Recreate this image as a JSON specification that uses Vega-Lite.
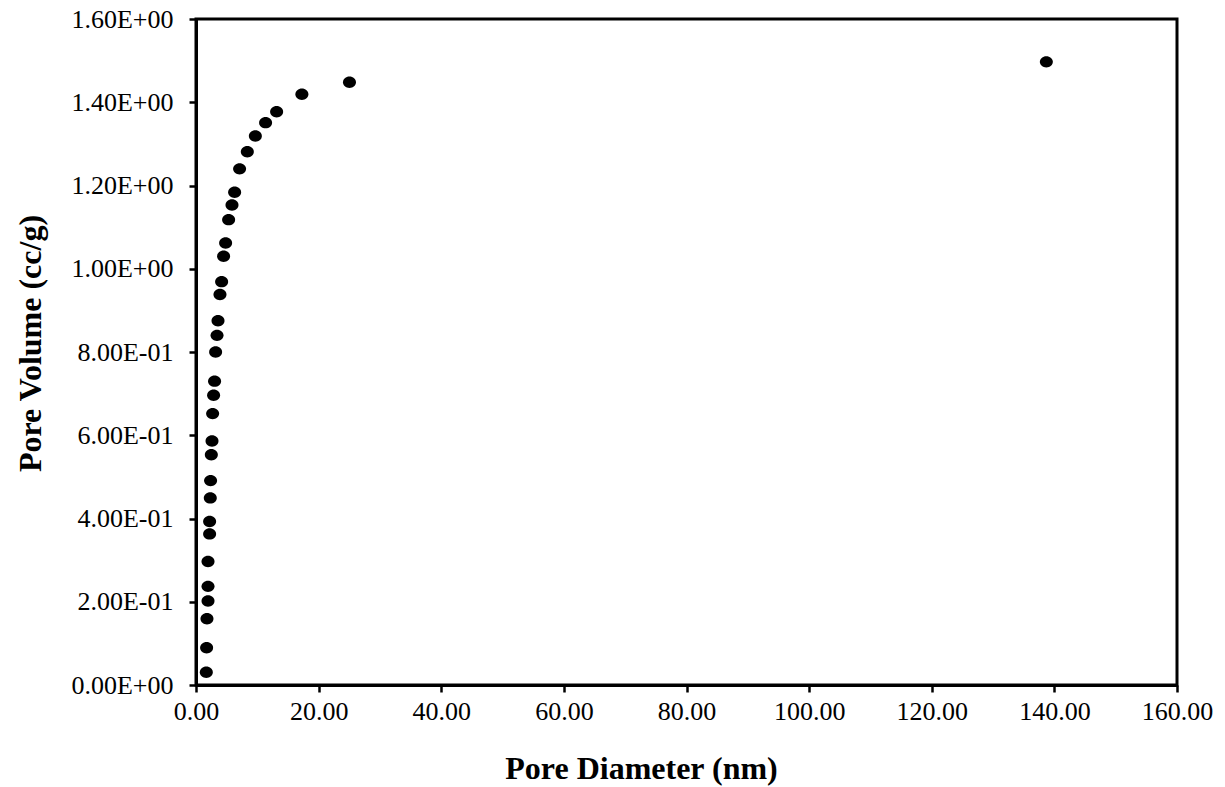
{
  "$schema": "https://vega.github.io/schema/vega-lite/v6.json",
  "autosize": "none",
  "width": 981,
  "height": 666,
  "padding": {"left": 196, "top": 19, "right": 48, "bottom": 102},
  "background": "white",
  "config": {
    "view": {"stroke": "black", "strokeWidth": 3},
    "font": "Liberation Serif"
  },
  "data": {
    "values": [
      {"d": 1.68, "v": 0.0307},
      {"d": 1.73, "v": 0.0893},
      {"d": 1.79, "v": 0.159},
      {"d": 1.96, "v": 0.202},
      {"d": 1.96, "v": 0.237},
      {"d": 1.96, "v": 0.2965},
      {"d": 2.22, "v": 0.363},
      {"d": 2.22, "v": 0.3926},
      {"d": 2.33, "v": 0.4495},
      {"d": 2.38, "v": 0.491},
      {"d": 2.5, "v": 0.553},
      {"d": 2.61, "v": 0.586},
      {"d": 2.71, "v": 0.652},
      {"d": 2.87, "v": 0.696},
      {"d": 3.03, "v": 0.73},
      {"d": 3.2, "v": 0.8},
      {"d": 3.43, "v": 0.84},
      {"d": 3.59, "v": 0.875},
      {"d": 3.91, "v": 0.938},
      {"d": 4.18, "v": 0.969},
      {"d": 4.5, "v": 1.03},
      {"d": 4.83, "v": 1.062},
      {"d": 5.32, "v": 1.118},
      {"d": 5.87, "v": 1.153},
      {"d": 6.3, "v": 1.184},
      {"d": 7.11, "v": 1.24},
      {"d": 8.37, "v": 1.281},
      {"d": 9.68, "v": 1.319},
      {"d": 11.35, "v": 1.351},
      {"d": 13.15, "v": 1.377},
      {"d": 17.27, "v": 1.419},
      {"d": 25.03, "v": 1.448},
      {"d": 138.69, "v": 1.497}
    ]
  },
  "mark": {
    "type": "point",
    "filled": true,
    "color": "black",
    "opacity": 1,
    "size": 169,
    "shape": "M-1,0A1,0.88 0 1,0 1,0A1,0.88 0 1,0 -1,0Z"
  },
  "encoding": {
    "x": {
      "field": "d",
      "type": "quantitative",
      "scale": {"domain": [0, 160], "nice": false, "zero": true},
      "axis": {
        "title": "Pore Diameter (nm)",
        "values": [0, 20, 40, 60, 80, 100, 120, 140, 160],
        "format": ".2f",
        "grid": false,
        "domainColor": "black",
        "domainWidth": 3,
        "tickColor": "black",
        "tickWidth": 2.5,
        "tickSize": 7,
        "labelFont": "Liberation Serif",
        "labelFontSize": 26,
        "labelColor": "black",
        "labelBaseline": "alphabetic",
        "labelPadding": 27,
        "labelFlush": false,
        "labelOverlap": false,
        "titleFont": "Liberation Serif",
        "titleFontSize": 32,
        "titleFontWeight": "bold",
        "titleColor": "black",
        "titleBaseline": "alphabetic",
        "titleAlign": "center",
        "titleX": 445,
        "titleY": 93
      }
    },
    "y": {
      "field": "v",
      "type": "quantitative",
      "scale": {"domain": [0, 1.6], "nice": false, "zero": true},
      "axis": {
        "title": "Pore Volume (cc/g)",
        "values": [0, 0.2, 0.4, 0.6, 0.8, 1.0, 1.2, 1.4, 1.6],
        "labelExpr": "datum.value == 0 ? '0.00E+00' : (datum.value >= 0.999 ? format(datum.value, '.2f') + 'E+00' : format(datum.value * 10, '.2f') + 'E-01')",
        "grid": false,
        "domainColor": "black",
        "domainWidth": 3,
        "tickColor": "black",
        "tickWidth": 2.5,
        "tickSize": 7,
        "labelFont": "Liberation Serif",
        "labelFontSize": 26,
        "labelColor": "black",
        "labelPadding": 16,
        "labelFlush": false,
        "labelOverlap": false,
        "labelBaseline": "middle",
        "titleFont": "Liberation Serif",
        "titleFontSize": 32,
        "titleFontWeight": "bold",
        "titleColor": "black",
        "titleAngle": -90,
        "titleBaseline": "alphabetic",
        "titleAlign": "center",
        "titleX": -156,
        "titleY": 324
      }
    }
  }
}
